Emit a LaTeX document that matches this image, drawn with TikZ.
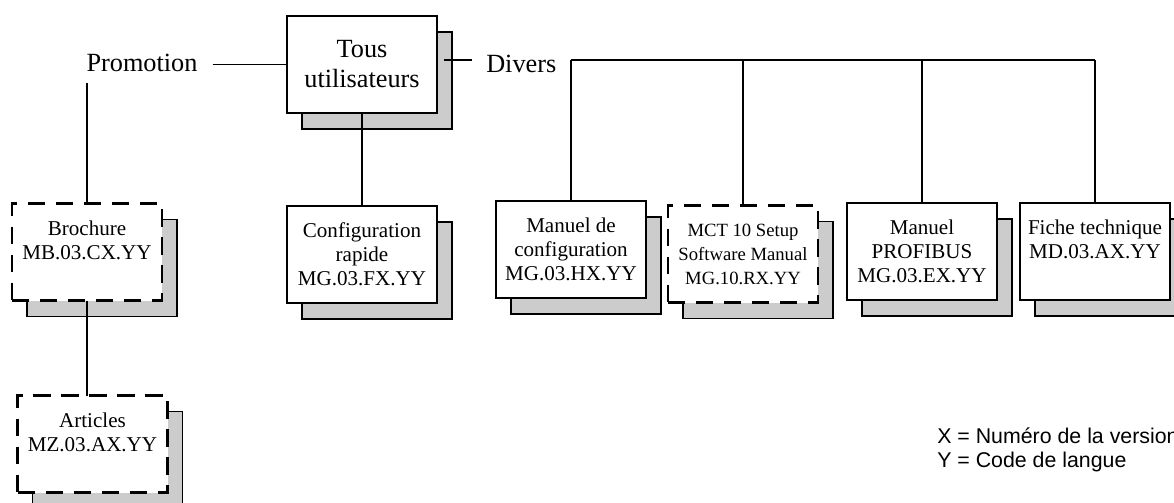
\documentclass[tikz,border=0pt]{standalone}
\usepackage{fontspec}
\setmainfont{Liberation Serif}
\newfontfamily\legendfont{Liberation Sans}
\usetikzlibrary{backgrounds}

\tikzset{
	doc/.style={draw, line width=0.8pt, fill=white, outer sep=0pt, inner sep=2pt,
		minimum width=112.5pt, minimum height=72.75pt, align=center,
		font=\fontsize{15.8}{18}\selectfont},
	docdashed/.style={doc, line width=2pt, dash pattern=on 13pt off 8pt},
	shadowbox/.style={draw, line width=0.8pt, fill=black!20},
	head/.style={align=center, font=\fontsize{19.7}{22.5}\selectfont},
	link/.style={line width=0.8pt}
}

\begin{document}
\begin{tikzpicture}[x=0.75pt,y=0.75pt,yscale=-1,xscale=1]
	\useasboundingbox (0,0) rectangle (1174,503);
	\coordinate (rail) at (0,60);

	\node[doc, head] (tous) at (362,64.5) {Tous\\utilisateurs};
	\node[head, inner xsep=11.25pt, inner ysep=8.25pt] (promo) at (142,63) {Promotion};
	\node[head, inner xsep=10.5pt, inner ysep=0pt, anchor=west] (divers) at (472,64) {Divers};

	\node[docdashed] (brochure) at (87,252) {Brochure\\MB.03.CX.YY\\\mbox{}};
	\node[docdashed] (articles) at (92.5,444) {Articles\\MZ.03.AX.YY\\\mbox{}};
	\node[doc] (config) at (362,254.5) {Configuration\\rapide\\MG.03.FX.YY};
	\node[doc] (manconf) at (571,249.5) {Manuel de\\configuration\\MG.03.HX.YY};
	\node[docdashed, font=\fontsize{14}{18}\selectfont] (mct) at (743,254) {MCT 10 Setup\\Software Manual\\MG.10.RX.YY};
	\node[doc] (profibus) at (922,251.5) {Manuel\\PROFIBUS\\MG.03.EX.YY};
	\node[doc] (fiche) at (1095,251.5) {Fiche technique\\MD.03.AX.YY\\\mbox{}};

	% grey shadows behind every document box
	\begin{scope}[on background layer]
		\foreach \b in {tous,brochure,articles,config,manconf,mct,profibus,fiche}
			\draw[shadowbox] ([shift={(15,16)}]\b.south west) rectangle ([shift={(15,16)}]\b.north east);
	\end{scope}

	\draw[link] (promo.east |- tous.west) -- (tous.west);
	\draw[link] (brochure.north) -- (brochure.north |- promo.south);
	\draw[link] (brochure.south) -- (brochure.south |- articles.north);
	\draw[link] (tous.south) -- (config.north);
	\draw[link] (divers.west |- rail) -- ++(-28,0);
	\draw[link] (manconf.north |- rail) -- (fiche.north |- rail);
	\foreach \b in {manconf,mct,profibus,fiche}
		\draw[link] (\b.north) -- (\b.north |- rail);

	\node[font=\legendfont\fontsize{16}{18}\selectfont, align=left, anchor=west, inner sep=0pt] (legend) at (937,450) {X = Numéro de la version\\Y = Code de langue};
\end{tikzpicture}
\end{document}
